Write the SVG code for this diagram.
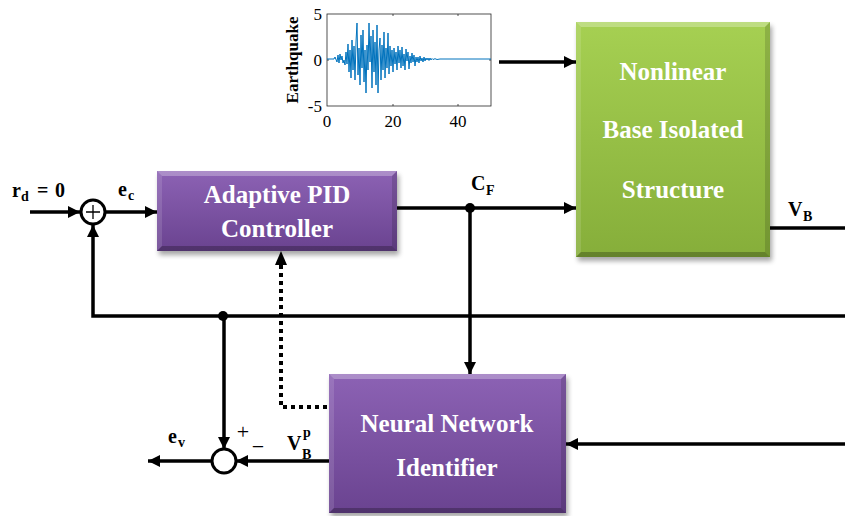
<svg xmlns="http://www.w3.org/2000/svg" width="845" height="516" viewBox="0 0 845 516">
<style>
.ln{stroke:#000;stroke-width:3.5;fill:none}
.bt{font-family:"Liberation Serif","Times New Roman",serif;font-weight:bold;fill:#fff;font-size:25px;text-anchor:middle}
.m{font-family:"Liberation Serif","Times New Roman",serif;font-weight:bold;fill:#000;font-size:20px}
.ms{font-size:14px}
.tk{font-family:"Liberation Serif","Times New Roman",serif;font-size:17px;fill:#000}
.pm{font-family:"Liberation Serif","Times New Roman",serif;font-size:22px;fill:#000;text-anchor:middle}
.hl{fill:#fff;opacity:.28}
.hl2{fill:#fff;opacity:.12}
.dk{fill:#000;opacity:.14}
.dk2{fill:#000;opacity:.25}
</style>
<defs>
<linearGradient id="gp" x1="0" y1="0" x2="0" y2="1">
<stop offset="0" stop-color="#8c62b4"/>
<stop offset="1" stop-color="#6a4390"/>
</linearGradient>
<linearGradient id="gg" x1="0" y1="0" x2="0" y2="1">
<stop offset="0" stop-color="#a6d052"/>
<stop offset="1" stop-color="#86ae3a"/>
</linearGradient>
<filter id="sh" x="-10%" y="-10%" width="120%" height="130%">
<feGaussianBlur stdDeviation="2.5"/>
</filter>
<marker id="ah" markerUnits="userSpaceOnUse" markerWidth="14" markerHeight="14" refX="12" refY="6" orient="auto" viewBox="0 0 14 12">
<path d="M0,0 L12,6 L0,12 z" fill="#000"/>
</marker>
</defs>
<rect width="845" height="516" fill="#fff"/>

<!-- earthquake plot -->
<g id="plot">
<rect x="327" y="14" width="164" height="92" fill="#fff" stroke="#262626" stroke-width="0.8"/>
<g stroke="#262626" stroke-width="0.8">
<line x1="393" y1="14" x2="393" y2="16"/><line x1="458" y1="14" x2="458" y2="16"/>
<line x1="393" y1="106" x2="393" y2="104"/><line x1="458" y1="106" x2="458" y2="104"/>
<line x1="327" y1="60" x2="329" y2="60"/><line x1="491" y1="60" x2="489" y2="60"/>
</g>
<polyline fill="none" stroke="#0072BD" stroke-width="1" stroke-linejoin="round" points="327,59 334,59 335,57 337,62 338,55 339,63 340,54 341,60 342,56 343,63 344,60 345,65 346,52 347,64 348,44 349,72 350,50 351,78 352,40 353,70 354,46 355,80 356,42 357,23 358,75 359,48 360,85 361,35 362,68 363,30 364,82 365,50 366,93 367,45 368,70 369,23 370,62 371,36 372,88 373,30 374,72 375,42 376,85 377,25 378,93 379,50 380,38 381,80 382,45 383,70 384,32 385,78 386,48 387,68 388,33 389,74 390,46 391,66 392,50 393,72 394,48 395,64 396,52 397,70 398,46 399,63 400,50 401,68 402,47 403,66 404,54 405,70 406,49 407,61 408,52 409,69 410,56 411,63 412,53 413,62 414,55 415,66 416,57 417,62 418,57 419,63 420,56 421,61 422,58 423,62 424,57 425,61 426,58 427,60 428,58 429,60.5 430,58 431,60 432,58.5 433,59.5 435,58.7 437,59.5 440,59 491,59"/>
<text class="tk" x="322" y="20" text-anchor="end">5</text>
<text class="tk" x="322" y="66" text-anchor="end">0</text>
<text class="tk" x="322" y="112" text-anchor="end">-5</text>
<text class="tk" x="327" y="127" text-anchor="middle">0</text>
<text class="tk" x="393" y="127" text-anchor="middle">20</text>
<text class="tk" x="458" y="127" text-anchor="middle">40</text>
<text class="tk" font-weight="bold" font-size="18" text-anchor="middle" transform="translate(298,60) rotate(-90)">Earthquake</text>
</g>

<!-- nodes -->
<g id="pid">
<rect x="159" y="175" width="240" height="80" fill="#000" opacity=".35" filter="url(#sh)"/>
<rect x="157" y="171" width="240" height="80" fill="url(#gp)"/>
<polygon class="hl" points="157,171 397,171 392,176 162,176"/>
<polygon class="hl2" points="157,171 162,176 162,246 157,251"/>
<polygon class="dk" points="397,171 397,251 392,246 392,176"/>
<polygon class="dk2" points="157,251 162,246 392,246 397,251"/>
<text class="bt" x="277" y="203">Adaptive PID</text>
<text class="bt" x="277" y="237">Controller</text>
</g>

<g id="structure">
<rect x="578" y="26" width="194" height="235" fill="#000" opacity=".35" filter="url(#sh)"/>
<rect x="576" y="22" width="194" height="235" fill="url(#gg)"/>
<polygon class="hl" points="576,22 770,22 765,27 581,27"/>
<polygon class="hl2" points="576,22 581,27 581,252 576,257"/>
<polygon class="dk" points="770,22 770,257 765,252 765,27"/>
<polygon class="dk2" points="576,257 581,252 765,252 770,257"/>
<text class="bt" x="673" y="80">Nonlinear</text>
<text class="bt" x="673" y="138">Base Isolated</text>
<text class="bt" x="673" y="198">Structure</text>
</g>

<g id="identifier">
<rect x="331" y="378" width="237" height="139" fill="#000" opacity=".35" filter="url(#sh)"/>
<rect x="329" y="374" width="237" height="139" fill="url(#gp)"/>
<polygon class="hl" points="329,374 566,374 561,379 334,379"/>
<polygon class="hl2" points="329,374 334,379 334,508 329,513"/>
<polygon class="dk" points="566,374 566,513 561,508 561,379"/>
<polygon class="dk2" points="329,513 334,508 561,508 566,513"/>
<text class="bt" x="447" y="432">Neural Network</text>
<text class="bt" x="447" y="476">Identifier</text>
</g>

<g id="sum1">
<circle cx="93" cy="212" r="12" fill="#fff" stroke="#000" stroke-width="3"/>
<path d="M86,212 H100 M93,205 V219" stroke="#000" stroke-width="1.3"/>
</g>
<g id="sum2">
<circle cx="224" cy="461" r="12" fill="#fff" stroke="#000" stroke-width="3"/>
</g>

<!-- connectors -->
<g id="connectors">
<line class="ln" x1="30" y1="212" x2="80" y2="212" marker-end="url(#ah)"/>
<line class="ln" x1="105" y1="212" x2="157" y2="212" marker-end="url(#ah)"/>
<line class="ln" x1="397" y1="208" x2="576" y2="208" marker-end="url(#ah)"/>
<line class="ln" x1="499" y1="62" x2="576" y2="62" marker-end="url(#ah)"/>
<line class="ln" x1="470" y1="208" x2="470" y2="374" marker-end="url(#ah)"/>
<circle cx="470" cy="208" r="5" fill="#000"/>
<line class="ln" x1="770" y1="228" x2="845" y2="228"/>
<polyline class="ln" points="845,316 93,316 93,225" marker-end="url(#ah)"/>
<circle cx="223" cy="316" r="5" fill="#000"/>
<line class="ln" x1="224" y1="316" x2="224" y2="449" marker-end="url(#ah)"/>
<line class="ln" x1="329" y1="461" x2="236" y2="461" marker-end="url(#ah)"/>
<line class="ln" x1="212" y1="461" x2="148" y2="461" marker-end="url(#ah)"/>
<line class="ln" x1="845" y1="444" x2="566" y2="444" marker-end="url(#ah)"/>
<polyline points="327,407 281,407 281,264" fill="none" stroke="#000" stroke-width="4" stroke-dasharray="4,4"/>
<path d="M281,251 L275,265 L287,265 z" fill="#000"/>
</g>

<!-- labels -->
<g id="labels">
<text class="m" x="12" y="197">r</text><text class="m ms" x="21" y="201">d</text>
<text class="m" x="37" y="197">=</text><text class="m" x="55" y="197">0</text>
<text class="m" x="118" y="196">e</text><text class="m ms" x="128" y="200">c</text>
<text class="m" x="471" y="190">C</text><text class="m ms" x="486" y="195">F</text>
<text class="m" x="788" y="216">V</text><text class="m ms" x="803" y="221">B</text>
<text class="m" x="287" y="450">V</text><text class="m ms" x="302" y="459">B</text><text class="m ms" x="303" y="437">p</text>
<text class="m" x="168" y="443">e</text><text class="m ms" x="178" y="447">v</text>
<text class="pm" x="243" y="439">+</text>
<text class="pm" x="258" y="454">−</text>
</g>
</svg>
